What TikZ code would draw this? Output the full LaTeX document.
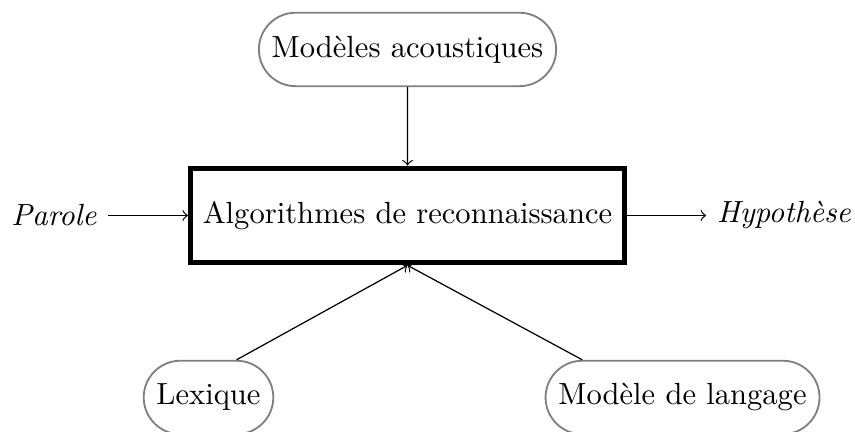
\documentclass[tikz,border=0pt]{standalone}
\usepackage{amssymb,amsmath}
\usetikzlibrary{shapes, arrows}

\tikzset{model/.style={draw=gray, semithick, rounded rectangle, minimum height=24pt}}
\tikzset{algo/.style={draw, ultra thick, rectangle, inner xsep=4pt, minimum height=31pt}}

\begin{document}
\begin{tikzpicture}

%Bounding Box
\useasboundingbox (-4.681,-2.487) rectangle (5.140,2.475);

%Boxes
\node [algo] (algo) at (0,0) {Algorithmes de reconnaissance};
\node [model] (acou) at (0,1.907) {Modèles acoustiques};
\node [model] (lex) at (-2.286,-2.09) {Lexique};
\node [model] (lang) at (3.159,-2.09) {Modèle de langage};

%Input & Output
\node (parole) at (-4.06,0) {\textit{Parole}};
\node (hyp) at (4.325,0) {\textit{Hypothèse}};

%Arrows
\draw [->] (acou) -- (algo);
\draw [->] (parole) -- (algo);
\draw [->] (algo) -- (hyp);
\draw [->] (lex.north east) -- (algo.south);
\draw [->] (lang.north west) -- (algo.south);

\end{tikzpicture}
\end{document}
